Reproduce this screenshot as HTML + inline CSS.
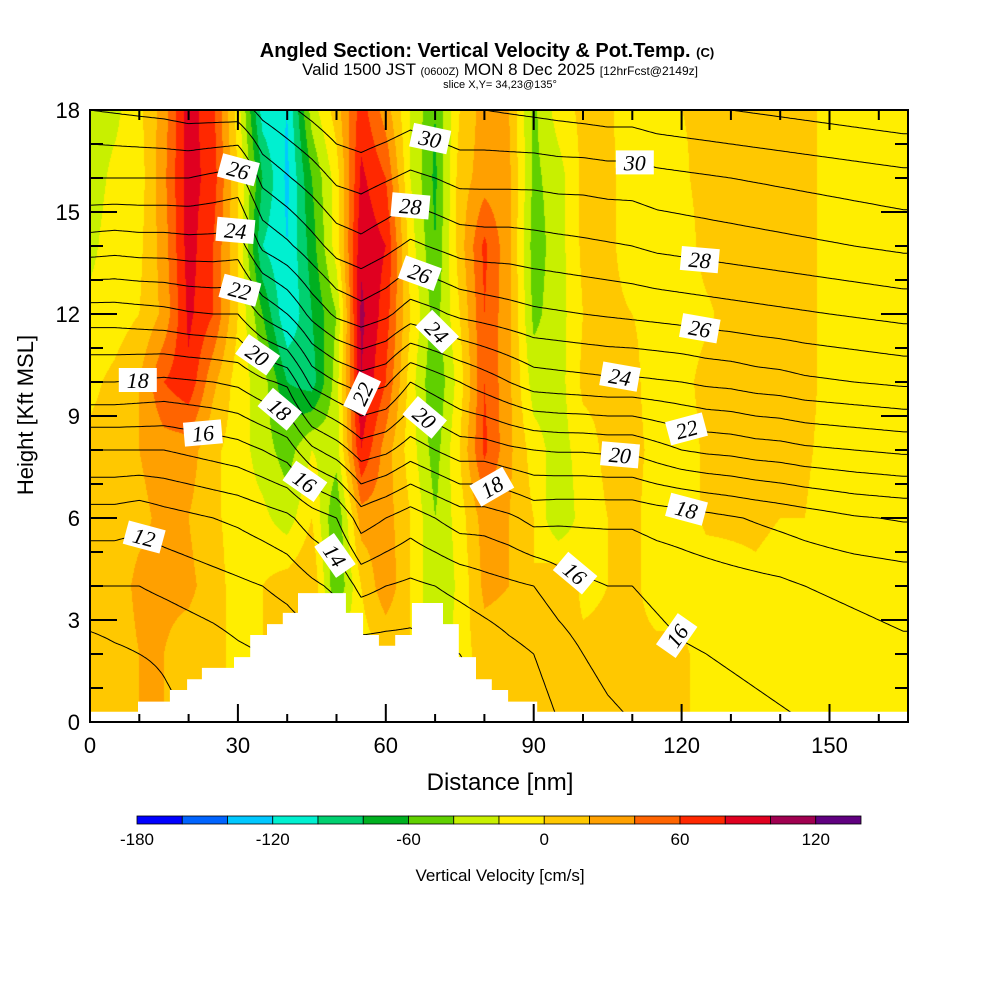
<!DOCTYPE html>
<html><head><meta charset="utf-8">
<style>
html,body{margin:0;padding:0;background:#fff;}
#wrap{position:relative;width:1000px;height:1000px;overflow:hidden;background:#fff;font-family:"Liberation Sans",sans-serif;}
#field{position:absolute;left:90px;top:110px;}
#ov{position:absolute;left:0;top:0;}
</style></head><body>
<div id="wrap">
<canvas id="field" width="818" height="612"></canvas>
<svg id="ov" width="1000" height="1000" xmlns="http://www.w3.org/2000/svg">
  <g id="contours"></g>
  <path id="terrain" fill="#fff"></path>
  <g id="clabels"></g>
  <rect x="90" y="110" width="818" height="612" fill="none" stroke="#000" stroke-width="2"></rect>
  <g id="ticks" stroke="#000" stroke-width="2"></g>
  <g id="xlabels" font-size="22" text-anchor="middle"></g>
  <g id="ylabels" font-size="22" text-anchor="end"></g>
  <text x="500" y="790" font-size="24" text-anchor="middle">Distance [nm]</text>
  <text transform="translate(33,415) rotate(-90)" font-size="22" text-anchor="middle">Height [Kft MSL]</text>
  <text x="487" y="57" font-size="20" font-weight="bold" text-anchor="middle">Angled Section: Vertical Velocity &amp; Pot.Temp. <tspan font-size="13">(C)</tspan></text>
  <text x="500" y="75" font-size="17" text-anchor="middle">Valid 1500 JST <tspan font-size="11">(0600Z)</tspan> MON 8 Dec 2025 <tspan font-size="12">[12hrFcst@2149z]</tspan></text>
  <text x="500" y="88" font-size="11" text-anchor="middle">slice X,Y= 34,23@135°</text>
  <g id="cbar"></g>
  <g id="cbarlabels" font-size="17" text-anchor="middle"></g>
  <text x="500" y="881" font-size="17" text-anchor="middle">Vertical Velocity [cm/s]</text>
</svg>
</div>
<script>
// ---- data ----
const colNm = [0,5,10,15,20,25,30,35,40,45,50,55,60,65,70,75,80,85,90,95,100,105,110,115,120,125,130,135,140,145,150,155,160,165];
const rowKft = [18,16,14,12,10,8,6,4,2,0];
const w18 = [-30,-25,-5,30,90,65,-10,-110,-120,-30,10,70,30,-20,-60,0,30,20,-45,-10,5,5,-15,-15,0,5,10,10,10,10,-10,-15,-15,-15];
const w16 = [-30,-15,-10,35,90,70,0,-80,-125,-60,-10,85,60,-20,-65,10,30,25,-45,-30,5,5,-10,-15,-5,10,10,10,10,10,-10,-15,-15,-15];
const w14 = [-25,-10,-5,30,90,60,0,-100,-120,-70,-10,95,80,-10,-60,10,65,25,-50,-30,5,5,-10,-10,-15,10,10,10,10,10,-10,-15,-15,-15];
const w12 = [-15,-10,0,25,85,60,0,-60,-120,-80,-40,105,70,0,-50,0,60,25,-45,-30,0,5,0,-5,-15,-5,10,10,10,10,-10,-15,-15,-15];
const w10 = [-5,5,20,60,75,25,-10,-30,-80,-90,-30,100,60,-10,-60,-10,60,25,-30,-30,5,5,5,-10,-10,10,10,10,10,10,-10,-15,-15,-15];
const w8  = [5,10,20,30,30,5,-10,-30,-50,-20,-30,80,30,-10,-50,0,65,25,-10,-30,-10,5,5,-5,-15,5,5,5,5,5,-10,-15,-15,-15];
const w6  = [5,10,15,25,20,5,-10,-15,-30,0,-60,30,30,0,-40,-10,30,20,0,-40,-10,0,5,-10,-15,5,5,5,0,0,-15,-15,-15,-15];
const w4  = [5,10,25,25,25,10,-10,0,10,20,-60,0,35,0,-40,-15,25,20,0,20,-5,0,5,-10,-10,-15,-10,-5,-10,-15,-15,-15,-15,-15];
const w2  = [5,10,20,20,10,5,-5,0,10,10,-10,-10,0,0,-40,-10,10,10,5,5,5,5,5,5,5,-10,-15,-15,-15,-15,-15,-15,-15,-15];
const w0  = [5,10,20,20,10,5,-5,0,10,10,-10,-10,0,0,-40,-10,10,10,5,5,5,5,5,5,5,-10,-15,-15,-15,-15,-15,-15,-15,-15];
// theta per column, values at heights 18,16,...,0 kft
const th00=[28,26,23.5,20.5,18,15,12.5,11,9.5,9];
const th05=[28.1,26,23.4,20.5,18,15,12.5,11,9.8,9.2];
const th10=[28.2,26,23.5,20.6,17.9,15,12.3,11,10,9.5];
const th15=[28.3,26,23.5,20.7,17.8,15,12.6,11.2,10.1,9.8];
const th20=[28.5,26,23.6,20.9,17.9,15.2,12.8,11.4,10.3,10];
const th25=[28.5,25.8,23.6,21,18,15.4,13,11.6,10.5,10.2];
const th30=[28.5,25.6,23.5,21,18.2,15.6,13.2,11.8,10.8,10.5];
const th35=[29.3,27.3,25.2,22.2,18.8,16,13.5,12,11,10.8];
const th40=[29.8,27.9,25.8,23,19.2,16.5,13.8,12.3,11.2,11];
const th45=[30.3,28.5,26.6,24.3,21.3,17.8,14.5,12.8,11.5,11.2];
const th50=[30.8,29.2,27.4,25.2,22,18.5,15,13.2,12,11.5];
const th55=[31,29.4,27.7,25.6,22.5,19.5,16.5,14.3,12.5,12];
const th60=[30.8,29.1,27.3,25.2,22.2,19.2,16,14,12.5,12];
const th65=[30.5,28.8,26.8,24.5,21,18.5,15.5,13.8,12.5,12];
const th70=[30.8,29,27.1,24.8,21.5,19,16,14,12.8,12.2];
const th75=[31,29.3,27.4,25.2,22,19.5,16.5,14.3,13,12.5];
const th80=[31,29.3,27.5,25.4,22.5,19.5,16.5,14.6,13.3,12.8];
const th85=[31.1,29.3,27.5,25.6,23,19.8,16.8,14.8,13.7,13.2];
const th90=[31.2,29.3,27.6,25.8,23.5,20,17.3,15,14,13.5];
const th95=[31.3,29.4,27.7,25.9,23.6,20.1,17.2,15.5,14.5,14];
const th100=[31.4,29.4,27.8,26,23.7,20.1,17.2,15.8,15,14.5];
const th105=[31.5,29.5,27.9,26.1,23.8,20.2,17.2,16,15.3,14.8];
const th110=[31.5,29.5,28,26.2,23.8,20.2,17.2,16,15.5,15];
const th115=[31.7,29.7,28.2,26.3,23.9,20.6,17.4,16.2,15.7,15.3];
const th120=[31.8,29.8,28.3,26.4,24,21,17.5,16.4,15.9,15.5];
const th125=[31.9,29.9,28.4,26.5,24.2,21.2,17.7,16.5,16,15.6];
const th130=[32,30,28.5,26.6,24.3,21.3,17.9,16.6,16.1,15.7];
const th135=[32.1,30.1,28.6,26.7,24.5,21.5,18.1,16.7,16.2,15.8];
const th140=[32.2,30.2,28.7,26.8,24.6,21.6,18.3,16.8,16.3,15.9];
const th145=[32.3,30.3,28.8,26.9,24.8,21.8,18.5,17,16.4,16];
const th150=[32.4,30.4,28.9,27,24.9,21.9,18.7,17.1,16.5,16.1];
const th155=[32.5,30.5,29,27.1,25,22,18.9,17.2,16.6,16.2];
const th160=[32.6,30.6,29.1,27.2,25.1,22.1,19,17.3,16.7,16.3];
const th165=[32.7,30.7,29.2,27.3,25.2,22.2,19.1,17.4,16.8,16.4];
const thetaLevels = [9,10,11,12,13,14,15,16,17,18,19,20,21,22,23,24,25,26,27,28,29,30,31,32,33];
const labelLevels = [26,24,22,20,18,16,14,22,30,28,26,24,20,18,18,16,12,30,28,26,24,22,20,18,16,16];
const labelNm     = [30.1,29.5,30.4,34,38.5,43.6,49.7,55.2,69,65,66.9,70.4,67.9,81.5,9.7,22.9,11,110.5,123.7,123.7,107.5,121,107.5,121,98.4,119];
const labelAngle  = [15,5,15,35,40,35,55,-65,12,5,20,45,40,-30,0,-5,15,0,5,10,10,-15,5,15,40,-55];
const terrainStart = [0,9.74,16.2,19.7,22.7,29.2,32.5,35.9,39.1,42.2,51.9,55.4,58.6,61.9,65.3,71.6,74.8,78.3,81.5,84.8,90.7];
const terrainKft   = [0.3,0.6,0.94,1.26,1.59,1.91,2.56,2.88,3.21,3.79,3.21,2.56,2.24,2.56,3.5,2.88,1.91,1.26,0.94,0.6,0.3];
const cbarColors = ["#0000ff","#0064ff","#00c8ff","#00f0d0","#00d070","#00b020","#60d000","#c8f000","#ffee00","#ffc800","#ffa000","#ff6400","#ff2800","#e00020","#a00050","#600080"];
const cbarTicks = [-180,-120,-60,0,60,120];
const xTicks = [0,30,60,90,120,150];
const yTicks = [0,3,6,9,12,15,18];

// ---- scales ----
const X0=90, XS=4.93, XMAX=(908-90)/4.93;
const sx = nm => X0 + nm*XS;
const sy = h => 722 - h*34;
const vMin=-180, vStep=20;
const cbX0=137, cbX1=861;
const cbx = v => cbX0 + (v - vMin)/(vStep*cbarColors.length)*(cbX1-cbX0);

const W=[w18,w16,w14,w12,w10,w8,w6,w4,w2,w0];
const TH=[th00,th05,th10,th15,th20,th25,th30,th35,th40,th45,th50,th55,th60,th65,th70,th75,th80,th85,th90,th95,th100,th105,th110,th115,th120,th125,th130,th135,th140,th145,th150,th155,th160,th165];

function colPos(nm){let f=nm/5; if(f<0)f=0; if(f>colNm.length-1)f=colNm.length-1; return f;}
function rowPos(h){let f=(18-h)/2; if(f<0)f=0; if(f>rowKft.length-1)f=rowKft.length-1; return f;}
function wAt(nm,h){
  const fx=colPos(nm), fy=rowPos(h);
  const i=Math.min(Math.floor(fx),colNm.length-2), j=Math.min(Math.floor(fy),rowKft.length-2);
  const tx=fx-i, ty=fy-j;
  const a=W[j][i], b=W[j][i+1], c=W[j+1][i], d=W[j+1][i+1];
  return (a*(1-tx)+b*tx)*(1-ty)+(c*(1-tx)+d*tx)*ty;
}
function thAt(nm,h){
  const fx=colPos(nm), fy=rowPos(h);
  const i=Math.min(Math.floor(fx),colNm.length-2), j=Math.min(Math.floor(fy),rowKft.length-2);
  const tx=fx-i, ty=fy-j;
  const a=TH[i][j], b=TH[i+1][j], c=TH[i][j+1], d=TH[i+1][j+1];
  return (a*(1-tx)+b*tx)*(1-ty)+(c*(1-tx)+d*tx)*ty;
}

// ---- field ----
(function(){
  const cv=document.getElementById('field'), ctx=cv.getContext('2d');
  const img=ctx.createImageData(818,612);
  const rgb=cbarColors.map(c=>[parseInt(c.substr(1,2),16),parseInt(c.substr(3,2),16),parseInt(c.substr(5,2),16)]);
  for(let py=0;py<612;py++){
    const h=(612-py-0.5)/34;
    for(let px=0;px<818;px++){
      const nm=(px+0.5)/XS;
      const v=wAt(nm,h);
      let k=Math.floor((v-vMin)/vStep); if(k<0)k=0; if(k>15)k=15;
      const o=(py*818+px)*4, c=rgb[k];
      img.data[o]=c[0];img.data[o+1]=c[1];img.data[o+2]=c[2];img.data[o+3]=255;
    }
  }
  ctx.putImageData(img,0,0);
})();

// ---- contours ----
(function(){
  const g=document.getElementById('contours');
  const dx=0.5, dh=0.1;
  const nx=Math.ceil(XMAX/dx), ny=Math.round(18/dh);
  const G=[];
  for(let i=0;i<=nx;i++){G.push([]);for(let j=0;j<=ny;j++)G[i].push(thAt(Math.min(i*dx,XMAX),j*dh));}
  thetaLevels.forEach(L=>{
    let d='';
    for(let i=0;i<nx;i++)for(let j=0;j<ny;j++){
      const cs=[[i,j],[i+1,j],[i+1,j+1],[i,j+1]];
      const pts=[];
      for(let e=0;e<4;e++){
        const p=cs[e],q=cs[(e+1)%4];
        const a=G[p[0]][p[1]]-L, b=G[q[0]][q[1]]-L;
        if((a<0)!==(b<0)){
          const t=a/(a-b);
          const nm=Math.min((p[0]+(q[0]-p[0])*t)*dx,XMAX), h=(p[1]+(q[1]-p[1])*t)*dh;
          pts.push([sx(nm),sy(h)]);
        }
      }
      for(let k=0;k+1<pts.length;k+=2) d+='M'+pts[k][0].toFixed(1)+' '+pts[k][1].toFixed(1)+'L'+pts[k+1][0].toFixed(1)+' '+pts[k+1][1].toFixed(1);
    }
    if(d){
      const p=document.createElementNS('http://www.w3.org/2000/svg','path');
      p.setAttribute('d',d);p.setAttribute('stroke','#000');p.setAttribute('stroke-width','1');p.setAttribute('fill','none');
      
      
      g.appendChild(p);
    }
  });
})();

// ---- terrain ----
(function(){
  let d='M'+sx(0)+' '+sy(0);
  for(let k=0;k<terrainStart.length;k++){
    const x0=terrainStart[k], x1=(k+1<terrainStart.length)?terrainStart[k+1]:XMAX;
    d+='L'+sx(x0).toFixed(1)+' '+sy(terrainKft[k]).toFixed(1)+'L'+sx(x1).toFixed(1)+' '+sy(terrainKft[k]).toFixed(1);
  }
  d+='L'+sx(XMAX)+' '+sy(0)+'Z';
  document.getElementById('terrain').setAttribute('d',d);
})();

// ---- contour labels ----
(function(){
  const g=document.getElementById('clabels');
  labelLevels.forEach((L,k)=>{
    const nm=labelNm[k]; let hh=null;
    for(let h=18;h>=0;h-=0.02){ if(thAt(nm,h)<=L){hh=h;break;} }
    if(hh===null) return;
    const gg=document.createElementNS('http://www.w3.org/2000/svg','g');
    gg.setAttribute('transform','translate('+sx(nm).toFixed(1)+','+sy(hh).toFixed(1)+') rotate('+labelAngle[k]+')');
    
    
    const r=document.createElementNS('http://www.w3.org/2000/svg','rect');
    r.setAttribute('x','-19');r.setAttribute('y','-12');r.setAttribute('width','38');r.setAttribute('height','24');r.setAttribute('fill','#fff');
    const t=document.createElementNS('http://www.w3.org/2000/svg','text');
    t.setAttribute('x','0');t.setAttribute('y','8');t.setAttribute('text-anchor','middle');
    t.setAttribute('font-family','"Liberation Serif",serif');t.setAttribute('font-size','22');t.setAttribute('font-style','italic');
    t.textContent=String(L);
    gg.appendChild(r);gg.appendChild(t);g.appendChild(gg);
  });
})();

// ---- axes ----
(function(){
  const tg=document.getElementById('ticks'), xl=document.getElementById('xlabels'), yl=document.getElementById('ylabels');
  const NS='http://www.w3.org/2000/svg';
  function line(x1,y1,x2,y2,name){const l=document.createElementNS(NS,'line');l.setAttribute('x1',x1);l.setAttribute('y1',y1);l.setAttribute('x2',x2);l.setAttribute('y2',y2);
    
    
    tg.appendChild(l);}
  for(let v=0;v<=XMAX;v+=10){
    const major=(v%30===0), x=sx(v);
    line(x,722,x,722-(major?18:8),'x-tick');
    line(x,110,x,110+(major?20:10),'x-tick-top');
  }
  for(let v=0;v<=18;v+=1){
    const major=(v%3===0), y=sy(v);
    line(90,y,90+(major?27:13),y,'y-tick');
    line(908,y,908-(major?27:13),y,'y-tick-right');
  }
  xTicks.forEach(v=>{const t=document.createElementNS(NS,'text');t.setAttribute('x',sx(v));t.setAttribute('y','753');t.textContent=String(v);
    
    
    xl.appendChild(t);});
  yTicks.forEach(v=>{const t=document.createElementNS(NS,'text');t.setAttribute('x','80');t.setAttribute('y',sy(v)+8);t.textContent=String(v);
    
    
    yl.appendChild(t);});
  const cb=document.getElementById('cbar'), cl=document.getElementById('cbarlabels');
  cbarColors.forEach((c,k)=>{
    const v0=vMin+k*vStep, v1=v0+vStep;
    const r=document.createElementNS(NS,'rect');
    r.setAttribute('x',cbx(v0));r.setAttribute('y','816');r.setAttribute('width',cbx(v1)-cbx(v0));r.setAttribute('height','8');
    r.setAttribute('fill',c);r.setAttribute('stroke','#000');r.setAttribute('stroke-width','0.8');
    
    
    cb.appendChild(r);
  });
  cbarTicks.forEach(v=>{const t=document.createElementNS(NS,'text');t.setAttribute('x',cbx(v));t.setAttribute('y','845');t.textContent=String(v);
    
    
    cl.appendChild(t);});
})();
</script>
</body></html>
